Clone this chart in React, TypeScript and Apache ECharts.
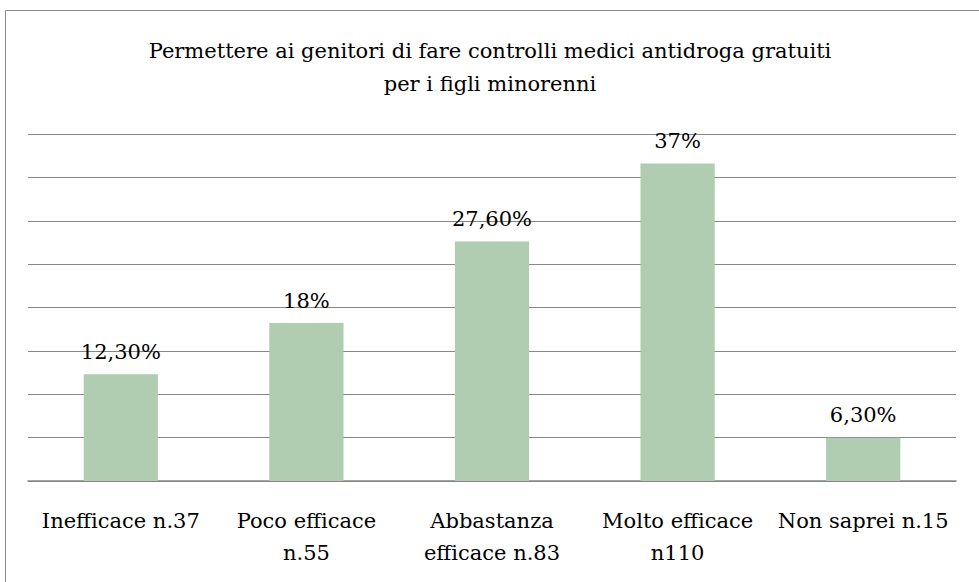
import React, { useEffect, useRef } from "react";
import * as echarts from "echarts";

const categories = [
  "Inefficace n.37",
  "Poco efficace\nn.55",
  "Abbastanza\nefficace n.83",
  "Molto efficace\nn110",
  "Non saprei n.15",
];
const values = [12.3, 18.2, 27.6, 36.6, 5.0];
const labelTexts = ["12,30%", "18%", "27,60%", "37%", "6,30%"];
const titleText =
  "Permettere ai genitori di fare controlli medici antidroga gratuiti\nper i figli minorenni";

const FONT = "DejaVu Serif";

export default function App() {
  const ref = useRef<HTMLDivElement>(null);
  useEffect(() => {
    document.body.style.margin = "0";
    if (!ref.current) return;
    const chart = echarts.init(ref.current, null, { renderer: "svg" });
    chart.setOption({
      animation: false,
      backgroundColor: "#ffffff",
      title: {
        text: titleText,
        left: 485,
        top: 29,
        textAlign: "center",
        textStyle: {
          fontFamily: FONT,
          fontSize: 21,
          fontWeight: "normal",
          color: "#000000",
          lineHeight: 33,
          align: "center",
        },
      },
      graphic: [
        {
          type: "rect",
          shape: { x: 5.5, y: 10.5, width: 1200, height: 1200 },
          style: { fill: "none", stroke: "#898989", lineWidth: 1 },
          silent: true,
        },
      ],
      grid: { left: 28, right: 23, top: 134, bottom: 101 },
      xAxis: {
        type: "category",
        data: categories,
        axisTick: { show: false },
        axisLine: { lineStyle: { color: "#868686", width: 1.5 } },
        axisLabel: {
          interval: 0,
          margin: 24,
          fontFamily: FONT,
          fontSize: 21,
          lineHeight: 32,
          color: "#000000",
          verticalAlign: "top",
        },
      },
      yAxis: {
        type: "value",
        min: 0,
        max: 40,
        interval: 5,
        axisLabel: { show: false },
        axisLine: { show: false },
        axisTick: { show: false },
        splitLine: { lineStyle: { color: "#868686", width: 1 } },
      },
      series: [
        {
          type: "bar",
          data: values,
          barWidth: "40%",
          itemStyle: { color: "#B0CCB1" },
          label: {
            show: true,
            position: "top",
            distance: 12,
            fontFamily: FONT,
            fontSize: 21,
            color: "#000000",
            formatter: (p: any) => labelTexts[p.dataIndex],
          },
        },
      ],
    });
    return () => chart.dispose();
  }, []);
  return <div ref={ref} style={{ width: 979, height: 582 }} />;
}
